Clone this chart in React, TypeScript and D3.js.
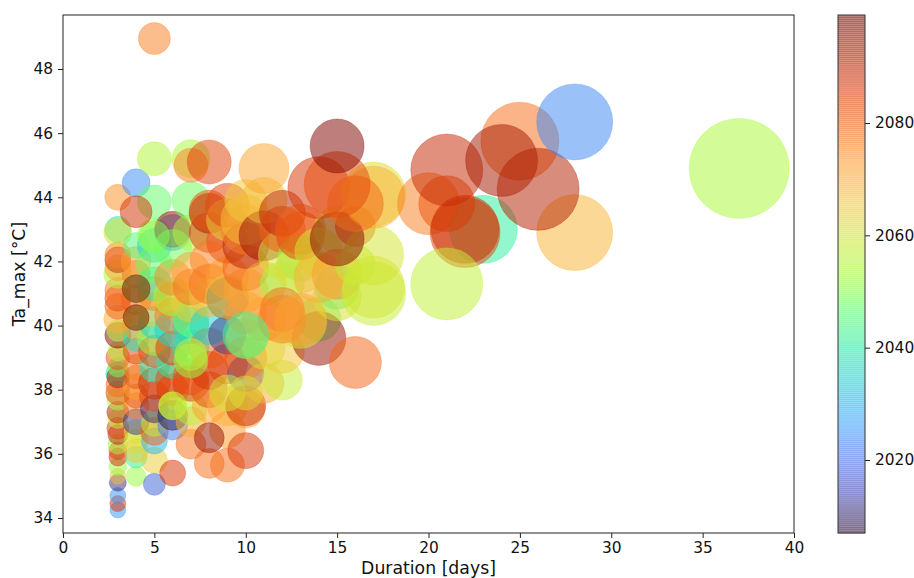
import React, { useEffect, useRef } from "react";
import * as d3 from "d3";

// [duration in days, Ta_max in °C, year, event magnitude]
type Ev = [number, number, number, number];

const shortEvents: Ev[] = [
  [3,34.25,2025,16],[3,34.45,2086,16],[3,34.7,2025,16],[3,35.1,2011,17],[3,35.3,2068,16],[3,35.6,2052,18],[3,35.9,2088,18],[3,36.1,2085,18],[3,36.3,2053,20],[3,36.6,2090,20],[3,36.8,2085,22],[3,37.1,2057,20],[3,37.3,2090,22],[3,37.7,2055,22],[3,37.9,2083,24],[3,38.15,2078,24],[3,38.5,2038,24],[3,38.4,2092,22],[3,38.7,2050,20],[3,39.0,2082,24],[3,39.2,2055,20],[3,39.7,2097,26],[3,39.85,2055,22],[3,40.2,2070,28],[3,40.6,2080,26],[3,40.85,2083,26],[3,41.1,2077,26],[3,41.6,2055,28],[3,41.8,2072,26],[3,42.05,2088,26],[3,42.2,2076,26],[3,43,2040,26],[3,42.9,2062,28],[3,44,2074,26],
  [4,35.3,2052,20],[4,35.9,2042,22],[4,36.1,2066,24],[4,36.4,2062,24],[4,36.7,2060,24],[4,37,2012,26],[4,37.5,2076,26],[4,37.8,2082,24],[4,38.1,2072,26],[4,38.4,2082,24],[4,38.7,2075,26],[4,39.2,2084,26],[4,39.6,2038,26],[4,40,2073,28],[4,40.8,2080,30],[4,41.6,2078,28],[4,42,2072,30],[4,42.5,2045,26],[4,44.45,2024,28],
  [5,35.05,2018,22],[5,35.8,2065,26],[5,36.4,2030,26],[5,36.7,2080,28],[5,36.95,2058,26],[5,37.4,2010,28],[5,37.8,2084,30],[5,38.2,2088,32],[5,38.7,2038,30],[5,39.2,2084,32],[5,39.6,2052,34],[5,40.1,2034,32],[5,40.5,2065,34],[5,41,2076,34],[5,41.3,2040,34],[5,42.5,2034,34],[5,42.8,2052,34],[5,41.9,2048,36],[5,43.85,2047,34],[5,45.2,2055,34],[5,48.95,2076,32],
  [6,35.4,2086,26],[6,36.9,2022,30],[6,37.2,2008,30],[6,38,2086,32],[6,38.3,2083,34],[6,38.85,2040,32],[6,39.3,2086,34],[6,39.9,2034,36],[6,40.3,2077,36],[6,40.8,2074,36],[6,40.9,2054,38],[6,41.5,2075,36],[6,42.9,2024,36],[6,43,2095,36],[6,42.4,2048,38],[6,37.5,2058,28],
];

const midEvents: Ev[] = [
  [7,36.3,2078,30],[7,37,2070,30],[7,37.4,2056,32],[7,38.2,2086,36],[7,38.4,2082,36],[7,39.3,2040,36],[7,40,2036,36],[7,40.2,2047,36],[7,40.7,2066,38],[7,41.2,2078,36],[7,41.7,2072,38],[7,42.9,2056,36],[7,43.9,2048,38],[7,45.2,2054,38],[7,45,2076,34],
  [8,35.7,2078,30],[8,37.5,2072,34],[8,38,2083,36],[8,38.6,2086,38],[8,39.3,2078,40],[8,40,2034,38],[8,40.9,2068,40],[8,41.3,2078,40],[8,42.9,2086,40],[8,43.5,2092,40],[8,43.6,2082,40],[8,42.05,2076,38],[8,45.1,2084,44],
  [9,35.65,2078,34],[9,36.75,2073,36],[9,37.5,2070,40],[9,38.8,2085,40],[9,39.7,2012,38],[9,40.85,2012,42],[9,40.9,2064,44],[9,41.5,2072,42],[9,42.6,2082,42],[9,43.3,2064,42],[9,43.75,2084,44],
  [10,36.1,2086,36],[10,37.4,2072,38],[10,37.5,2088,40],[10,38.5,2012,36],[10,39,2082,42],[10,39.6,2065,40],[10,40.4,2074,42],[10,41.1,2072,44],[10,41.8,2080,46],[10,42.5,2090,46],[10,43,2076,50],[10,43.3,2068,50],[10,43.9,2066,42],
  [11,38.2,2070,40],[11,39.3,2060,42],[11,40.2,2072,44],[11,41.3,2070,44],[11,42.8,2095,50],[11,43.9,2068,46],[11,44.9,2071,50],
  [12,38.3,2058,40],[12,39.2,2066,44],[12,41.3,2052,44],[12,42.2,2060,48],[12,43,2080,46],[12,43.5,2090,46],
];

const longEvents: Ev[] = [
  [14,40.2,2046,44],[14,39.6,2095,54],[13,42.1,2050,46],[13,41.8,2062,50],[13,42.8,2084,48],[13,43,2080,50],
  [13,40.1,2060,52],[12,40.5,2078,44],[12,40.2,2076,48],[13,40.2,2072,52],
  [15,41.2,2043,44],[15,40.9,2062,48],[14,42.3,2060,48],[15,43,2058,46],[15,41.6,2074,50],[14,41.5,2070,50],
  [17,41.2,2062,62],[17,41,2058,64],[16,41.9,2058,40],[16,43.1,2082,40],[17,42.2,2060,60],
  [15,42.7,2097,54],[14,44.3,2086,62],[17,44.1,2062,64],[17,44,2070,62],[16,43.8,2079,56],[15,44.4,2083,66],[15,45.6,2098,54],
  [16,38.85,2079,52],
  [20,43.8,2076,62],[23,43,2041,68],[21,43.8,2082,56],[22,42.9,2084,70],[22,43,2088,68],[21,44.85,2089,72],
  [21,41.3,2057,72],[28,42.9,2069,76],[25,45.75,2078,78],[24,45.15,2093,72],[26,44.25,2091,82],[28,46.35,2023,76],[37,44.9,2054,100],
];

// Drawn last: these sit visibly on top of the crowd
const topEvents: Ev[] = [
  [10,39.7,2043,46],[9,37.9,2060,36],[10,37.9,2062,34],[8,36.5,2095,30],
  [7,38.9,2052,34],[7,39.1,2056,32],[6,37.5,2058,28],
  [5,42.8,2050,30],[4,40.25,2052,24],[4,40.25,2098,26],[4,41.15,2050,28],[4,41.15,2098,28],[4,43.55,2087,32],
];

const turboStops = ["#30123b","#4145ab","#4675ed","#39a2fc","#1bcfd4","#24eca6","#61fc6c","#a4fc3b","#d1e834","#f3c63a","#fe9b2d","#f36315","#d93806","#a81b02","#7a0402"];
const xTicks = [0,5,10,15,20,25,30,35,40];
const yTicks = [34,36,38,40,42,44,46,48];
const yearTicks = [2020,2040,2060,2080];
const yearDomain: [number, number] = [2007, 2099.2];

export default function App() {
  const ref = useRef<SVGSVGElement | null>(null);
  useEffect(() => {
    const svg = d3.select(ref.current);
    svg.selectAll("*").remove();
    const left = 63, right = 794, top = 15, bottom = 533;
    const x = d3.scaleLinear().domain([0, 40]).range([left, right]);
    const y = d3.scaleLinear().domain([34, 48]).range([518, 69]);
    const r = d3.scaleLinear().domain([0, 100]).range([0, 50]);
    const turbo = d3.piecewise(d3.interpolateRgb, turboStops);
    const cNorm = d3.scaleLinear().domain(yearDomain).range([0, 1]).clamp(true);
    const color = (yr: number) => turbo(cNorm(yr));

    const all = [...shortEvents, ...midEvents, ...longEvents, ...topEvents];
    const g = svg.append("g").attr("style", "filter: blur(0.3px)");
    g.selectAll("circle").data(all).join("circle")
      .attr("cx", d => x(d[0]))
      .attr("cy", d => y(d[1]))
      .attr("r", d => r(d[3]))
      .attr("fill", d => color(d[2]))
      .attr("stroke", d => color(d[2]))
      .attr("stroke-width", 1)
      .attr("fill-opacity", 0.52)
      .attr("stroke-opacity", 0.3);

    svg.append("rect").attr("x", left).attr("y", top).attr("width", right - left).attr("height", bottom - top)
      .attr("fill", "none").attr("stroke", "#222").attr("stroke-width", 1);

    const styleAxis = (a: any) => {
      a.select(".domain").remove();
      a.selectAll("line").attr("stroke", "#222");
      a.selectAll("text").attr("font-family", "DejaVu Sans").attr("font-size", 15.4).attr("fill", "#111");
    };
    svg.append("g").attr("transform", `translate(0,${bottom})`)
      .call(d3.axisBottom(x).tickValues(xTicks).tickFormat(d3.format("d")).tickSize(5).tickPadding(4)).call(styleAxis);
    svg.append("g").attr("transform", `translate(${left},0)`)
      .call(d3.axisLeft(y).tickValues(yTicks).tickFormat(d3.format("d")).tickSize(5).tickPadding(5)).call(styleAxis);

    svg.append("text").attr("x", 428.5).attr("y", 574).attr("text-anchor", "middle")
      .attr("font-family", "DejaVu Sans").attr("font-size", 17.3).attr("fill", "#111").text("Duration [days]");
    svg.append("text").attr("transform", "translate(25,274) rotate(-90)").attr("text-anchor", "middle")
      .attr("font-family", "DejaVu Sans").attr("font-size", 17.3).attr("fill", "#111").text("Ta_max [°C]");

    // colour bar
    const cbL = 838, cbW = 27;
    const cy = d3.scaleLinear().domain([2020, 2080]).range([460, 123]);
    const cyBar = d3.scaleLinear().domain(yearDomain).range([533, 15]);
    const levels = d3.range(256).map(i => yearDomain[0] + (i / 256) * (yearDomain[1] - yearDomain[0]));
    const step = (yearDomain[1] - yearDomain[0]) / 256;
    svg.append("g").selectAll("rect").data(levels).join("rect")
      .attr("x", cbL).attr("width", cbW)
      .attr("y", d => cyBar(d + step))
      .attr("height", d => cyBar(d) - cyBar(d + step) + 0.5)
      .attr("fill", d => color(d)).attr("fill-opacity", 0.5);
    svg.append("rect").attr("x", cbL).attr("y", top).attr("width", cbW).attr("height", bottom - top)
      .attr("fill", "none").attr("stroke", "#333").attr("stroke-width", 1);
    svg.append("g").attr("transform", `translate(${cbL + cbW},0)`)
      .call(d3.axisRight(cy).tickValues(yearTicks).tickFormat(d3.format("d")).tickSize(5).tickPadding(5)).call(styleAxis);
  }, []);
  return <svg ref={ref} width={914} height={578} style={{ position: "absolute", left: 0, top: 0, display: "block", background: "#fff" }} />;
}
